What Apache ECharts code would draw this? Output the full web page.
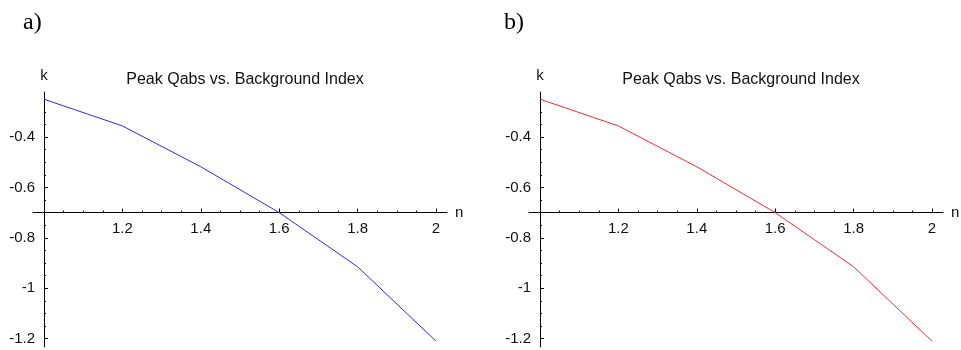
<!DOCTYPE html>
<html><head><meta charset="utf-8">
<script src="https://cdn.jsdelivr.net/npm/echarts@6/dist/echarts.min.js"></script>
<style>html,body{margin:0;padding:0;background:#fff}#c{width:961px;height:350px}</style>
</head><body><div id="c"></div>
<script>
// ---- data ----
const nValues = [1.0, 1.2, 1.4, 1.6, 1.8, 2.0];
const kValuesA = [-0.25, -0.356, -0.518, -0.70, -0.915, -1.21];
const kValuesB = [-0.25, -0.356, -0.518, -0.70, -0.915, -1.21];
const xTickLabels = [1.2, 1.4, 1.6, 1.8, 2];
const yTickLabels = [-0.4, -0.6, -0.8, -1, -1.2];
const xMinorTicks = [1.05, 1.1, 1.15, 1.25, 1.3, 1.35, 1.45, 1.5, 1.55, 1.65, 1.7, 1.75, 1.85, 1.9, 1.95];
const yMinorTicks = [-0.25, -0.3, -0.35, -0.45, -0.5, -0.55, -0.65, -0.75, -0.85, -0.9, -0.95, -1.05, -1.1, -1.15];
const panelLabels = ['a)', 'b)'];
const chartTitle = 'Peak Qabs vs. Background Index';
const xName = 'n';
const yName = 'k';
const xCross = 1.0;   // y axis drawn at n = 1
const yCross = -0.7;  // x axis drawn at k = -0.7
const xRange = [0.972, 2.028];
const yRange = [-1.2333, -0.2214];

// ---- layout / style ----
const lineColors = ['#2a2aff', '#ff2a2a'];
const sans = 'Liberation Sans, Arial, sans-serif';
const serif = 'Liberation Serif, Times New Roman, serif';
const panelShift = 496;
const gridTop = 92, gridHeight = 255, gridWidth = 414, gridLeft0 = 33;
const kSeries = [kValuesA, kValuesB];

const chart = echarts.init(document.getElementById('c'), null, {renderer: 'canvas'});

function buildOption(offsets) {
  const grid = [], xAxis = [], yAxis = [], series = [], title = [];
  for (let i = 0; i < 2; i++) {
    const gl = gridLeft0 + panelShift * i;
    const off = offsets ? offsets[i] : {x: 0, y: 0};
    grid.push({left: gl, top: gridTop, width: gridWidth, height: gridHeight, containLabel: false, outerBoundsMode: 'none'});
    const lblStyle = {fontFamily: sans, fontSize: 15, color: '#111'};
    xAxis.push({
      gridIndex: i, type: 'value', min: xRange[0], max: xRange[1], position: 'bottom', offset: off.x,
      axisLine: {show: true, onZero: false, lineStyle: {color: '#000', width: 1}},
      axisTick: {show: true, inside: true, length: 2, customValues: xMinorTicks, lineStyle: {color: '#000', width: 1}},
      axisLabel: {show: false}, splitLine: {show: false},
      name: xName, nameLocation: 'end', nameGap: 8,
      nameTextStyle: Object.assign({}, lblStyle, {verticalAlign: 'middle'})
    });
    xAxis.push({
      gridIndex: i, type: 'value', min: xRange[0], max: xRange[1], position: 'bottom', offset: off.x,
      axisLine: {show: false, onZero: false},
      axisTick: {show: true, inside: true, length: 4, customValues: xTickLabels, lineStyle: {color: '#000', width: 1}},
      axisLabel: Object.assign({show: true, margin: 9, customValues: xTickLabels}, lblStyle),
      splitLine: {show: false}
    });
    yAxis.push({
      gridIndex: i, type: 'value', min: yRange[0], max: yRange[1], position: 'left', offset: off.y,
      axisLine: {show: true, onZero: false, lineStyle: {color: '#000', width: 1}},
      axisTick: {show: true, inside: true, length: 2, customValues: yMinorTicks, lineStyle: {color: '#000', width: 1}},
      axisLabel: {show: false}, splitLine: {show: false},
      name: yName, nameLocation: 'end', nameGap: 9,
      nameTextStyle: Object.assign({}, lblStyle, {align: 'center'})
    });
    yAxis.push({
      gridIndex: i, type: 'value', min: yRange[0], max: yRange[1], position: 'left', offset: off.y,
      axisLine: {show: false, onZero: false},
      axisTick: {show: true, inside: true, length: 4, customValues: yTickLabels, lineStyle: {color: '#000', width: 1}},
      axisLabel: Object.assign({show: true, margin: 9, customValues: yTickLabels}, lblStyle),
      splitLine: {show: false}
    });
    series.push({
      type: 'line', xAxisIndex: 2 * i, yAxisIndex: 2 * i,
      data: nValues.map((n, j) => [n, kSeries[i][j]]),
      symbol: 'none', showSymbol: false, clip: false,
      lineStyle: {color: lineColors[i], width: 1}, animation: false
    });
    title.push({
      text: chartTitle, left: gl + 11 + 196, top: 67, textAlign: 'center',
      textStyle: {fontFamily: sans, fontSize: 16, fontWeight: 'normal', color: '#111'}
    });
    title.push({
      text: panelLabels[i], left: 18 + panelShift * i - (i ? 15 : 0), top: 6,
      textStyle: {fontFamily: serif, fontSize: 24, fontWeight: 'normal', color: '#000'}
    });
  }
  return {animation: false, backgroundColor: '#fff', title, grid, xAxis, yAxis, series};
}

function computeOffsets() {
  const res = [];
  for (let i = 0; i < 2; i++) {
    const gl = gridLeft0 + panelShift * i;
    const py = chart.convertToPixel({yAxisIndex: 2 * i}, yCross);
    const px = chart.convertToPixel({xAxisIndex: 2 * i}, xCross);
    res.push({x: py - (gridTop + gridHeight), y: gl - px});
  }
  return res;
}

chart.setOption(buildOption(null));
chart.setOption(buildOption(computeOffsets()));
chart.setOption(buildOption(computeOffsets()));
</script>
</body></html>
